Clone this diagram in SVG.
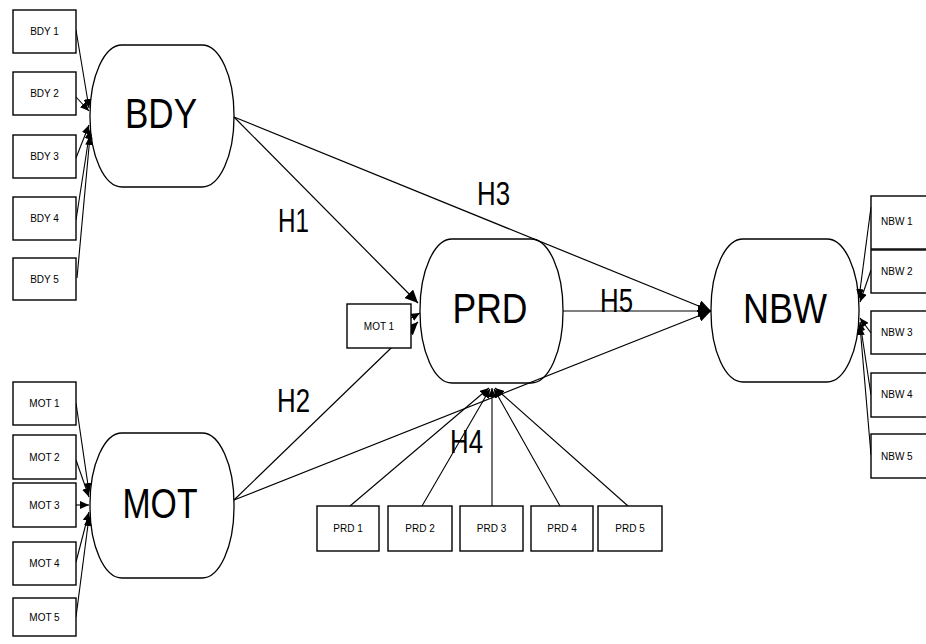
<svg xmlns="http://www.w3.org/2000/svg" width="926" height="644" viewBox="0 0 926 644">
<style>
.lat{fill:#fff;stroke:#000;stroke-width:1.3}
.ind{fill:#fff;stroke:#000;stroke-width:1.4}
.big{font-family:"Liberation Sans",Arial,sans-serif;font-size:42px;fill:#000;text-anchor:middle}
.h{font-family:"Liberation Sans",Arial,sans-serif;font-size:33px;fill:#000}
.sm{font-family:"Liberation Sans",Arial,sans-serif;font-size:10px;fill:#000;text-anchor:middle}
.sl{font-family:"Liberation Sans",Arial,sans-serif;font-size:10px;fill:#000}
.c{stroke:#000;stroke-width:1.2;fill:none;marker-end:url(#ah)}
.cs{stroke:#000;stroke-width:1.1;fill:none;marker-end:url(#as)}
</style>
<defs>
<marker id="ah" markerUnits="userSpaceOnUse" markerWidth="14" markerHeight="12" refX="13" refY="6" orient="auto">
<path d="M0,0 L13,6 L0,12 z" fill="#000"/>
</marker>
<marker id="as" markerUnits="userSpaceOnUse" markerWidth="10" markerHeight="8" refX="9" refY="4" orient="auto">
<path d="M0,0 L9,4 L0,8 z" fill="#000"/>
</marker>
</defs>
<rect width="926" height="644" fill="#fff"/>
<g id="BDY"><rect class="lat" x="90" y="45" width="144" height="142" rx="32" ry="70"/><text class="big" x="161" y="128" textLength="72" lengthAdjust="spacingAndGlyphs">BDY</text></g>
<g id="MOT"><rect class="lat" x="90" y="433" width="144" height="145" rx="32" ry="71"/><text class="big" x="160" y="518" textLength="75" lengthAdjust="spacingAndGlyphs">MOT</text></g>
<g id="PRD"><rect class="lat" x="420" y="239" width="143" height="144" rx="32" ry="71"/><text class="big" x="490" y="323" textLength="75" lengthAdjust="spacingAndGlyphs">PRD</text></g>
<g id="NBW"><rect class="lat" x="711" y="239" width="148" height="143" rx="32" ry="70"/><text class="big" x="785" y="323" textLength="84" lengthAdjust="spacingAndGlyphs">NBW</text></g>
<g id="connectors">
<line class="c" x1="234" y1="117" x2="418" y2="303"/>
<line class="c" x1="234" y1="117" x2="711" y2="311"/>
<line class="c" x1="563" y1="311" x2="711" y2="311"/>
<line class="c" x1="234" y1="500" x2="418" y2="322"/>
<line class="c" x1="234" y1="500" x2="711" y2="311"/>
<line class="cs" x1="411" y1="318" x2="420" y2="313"/>
<line class="cs" x1="76" y1="30" x2="89" y2="108"/>
<line class="cs" x1="76" y1="97" x2="89" y2="111"/>
<line class="cs" x1="76" y1="158" x2="89" y2="125"/>
<line class="cs" x1="76" y1="220" x2="90" y2="130"/>
<line class="cs" x1="77" y1="278" x2="90" y2="136"/>
<line class="cs" x1="76" y1="403" x2="89" y2="492"/>
<line class="cs" x1="76" y1="460" x2="89" y2="497"/>
<line class="cs" x1="76" y1="505" x2="89" y2="505"/>
<line class="cs" x1="76" y1="562" x2="89" y2="512"/>
<line class="cs" x1="76" y1="617" x2="89" y2="517"/>
<line class="cs" x1="871" y1="207" x2="859" y2="298"/>
<line class="cs" x1="871" y1="270" x2="860" y2="302"/>
<line class="cs" x1="871" y1="333" x2="860" y2="318"/>
<line class="cs" x1="871" y1="395" x2="860" y2="322"/>
<line class="cs" x1="871" y1="455" x2="860" y2="326"/>
<line class="cs" x1="350" y1="506" x2="489" y2="388"/>
<line class="cs" x1="422" y1="506" x2="490" y2="389"/>
<line class="cs" x1="492" y1="506" x2="492" y2="388"/>
<line class="cs" x1="560" y1="506" x2="494" y2="389"/>
<line class="cs" x1="628" y1="506" x2="495" y2="388"/>
</g>
<g id="labels">
<text class="h" x="278" y="232" textLength="31" lengthAdjust="spacingAndGlyphs">H1</text>
<text class="h" x="477" y="205" textLength="33" lengthAdjust="spacingAndGlyphs">H3</text>
<text class="h" x="600" y="312" textLength="33" lengthAdjust="spacingAndGlyphs">H5</text>
<text class="h" x="277" y="412" textLength="33" lengthAdjust="spacingAndGlyphs">H2</text>
<text class="h" x="450" y="453" textLength="33" lengthAdjust="spacingAndGlyphs">H4</text>
</g>
<g id="BDY1"><rect class="ind" x="13" y="10" width="63" height="43"/><text class="sm" x="44.5" y="35">BDY 1</text></g>
<g id="BDY2"><rect class="ind" x="13" y="72" width="63" height="43"/><text class="sm" x="44.5" y="97">BDY 2</text></g>
<g id="BDY3"><rect class="ind" x="13" y="135" width="63" height="43"/><text class="sm" x="44.5" y="160">BDY 3</text></g>
<g id="BDY4"><rect class="ind" x="13" y="197" width="63" height="43"/><text class="sm" x="44.5" y="222">BDY 4</text></g>
<g id="BDY5"><rect class="ind" x="13" y="258" width="63" height="42"/><text class="sm" x="44.5" y="283">BDY 5</text></g>
<g id="MOT1"><rect class="ind" x="13" y="382" width="63" height="43"/><text class="sm" x="44.5" y="407">MOT 1</text></g>
<g id="MOT2"><rect class="ind" x="13" y="435" width="63" height="44"/><text class="sm" x="44.5" y="461">MOT 2</text></g>
<g id="MOT3"><rect class="ind" x="13" y="483" width="63" height="44"/><text class="sm" x="44.5" y="509">MOT 3</text></g>
<g id="MOT4"><rect class="ind" x="13" y="542" width="63" height="43"/><text class="sm" x="44.5" y="567">MOT 4</text></g>
<g id="MOT5"><rect class="ind" x="13" y="598" width="63" height="38"/><text class="sm" x="44.5" y="621">MOT 5</text></g>
<g id="MOT1m"><rect class="ind" x="347" y="304" width="64" height="44"/><text class="sm" x="379" y="330">MOT 1</text></g>
<g id="PRD1"><rect class="ind" x="317" y="506" width="62" height="45"/><text class="sm" x="348" y="532">PRD 1</text></g>
<g id="PRD2"><rect class="ind" x="388" y="506" width="64" height="45"/><text class="sm" x="420" y="532">PRD 2</text></g>
<g id="PRD3"><rect class="ind" x="460" y="506" width="63" height="45"/><text class="sm" x="491.5" y="532">PRD 3</text></g>
<g id="PRD4"><rect class="ind" x="531" y="506" width="62" height="45"/><text class="sm" x="562" y="532">PRD 4</text></g>
<g id="PRD5"><rect class="ind" x="598" y="506" width="64" height="45"/><text class="sm" x="630" y="532">PRD 5</text></g>
<g id="NBW1"><rect class="ind" x="871" y="196" width="64" height="53"/><text class="sl" x="881" y="225">NBW 1</text></g>
<g id="NBW2"><rect class="ind" x="871" y="250" width="64" height="43"/><text class="sl" x="881" y="275">NBW 2</text></g>
<g id="NBW3"><rect class="ind" x="871" y="311" width="64" height="43"/><text class="sl" x="881" y="336">NBW 3</text></g>
<g id="NBW4"><rect class="ind" x="871" y="373" width="64" height="44"/><text class="sl" x="881" y="398">NBW 4</text></g>
<g id="NBW5"><rect class="ind" x="871" y="434" width="64" height="44"/><text class="sl" x="881" y="460">NBW 5</text></g>
</svg>
